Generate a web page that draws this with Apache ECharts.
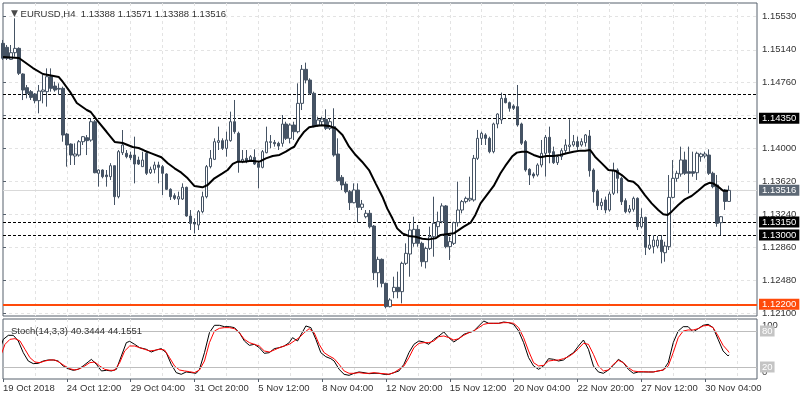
<!DOCTYPE html>
<html><head><meta charset="utf-8">
<script src="https://cdn.jsdelivr.net/npm/echarts@6/dist/echarts.min.js"></script>
<style>html,body{margin:0;padding:0;background:#fff}#c{width:800px;height:400px}</style>
</head><body><div id="c"></div>
<script>
const symbol = 'EURUSD,H4';
const tickLabels = ['19 Oct 2018','24 Oct 12:00','29 Oct 04:00','31 Oct 20:00','5 Nov 12:00','8 Nov 04:00','12 Nov 20:00','15 Nov 12:00','20 Nov 04:00','22 Nov 20:00','27 Nov 12:00','30 Nov 04:00'];
const priceTicks = [1.121, 1.1248, 1.1286, 1.1324, 1.1362, 1.14, 1.1438, 1.1476, 1.1514, 1.1553];
const priceLabelTicks = [1.121, 1.1248, 1.1286, 1.1324, 1.1362, 1.14, 1.1476, 1.1514, 1.1553];

const opens = [
1.15214,1.15168,1.15029,1.15106,1.15156,1.14860,1.14702,1.14656,1.14629,1.14552,
1.14656,1.14656,1.14829,1.14721,1.14694,1.14694,1.14167,1.14051,1.13913,1.13924,
1.14078,1.14124,1.14097,1.14309,1.13713,1.13751,1.13693,1.13674,1.13801,1.13443,
1.13951,1.13944,1.13924,1.13924,1.13866,1.13790,1.13944,1.13720,1.13759,1.13809,
1.13790,1.13705,1.13528,1.13455,1.13416,1.13416,1.13551,1.13220,1.13143,1.13116,
1.13270,1.13443,1.13790,1.13874,1.14070,1.14090,1.14001,1.14090,1.14309,1.14175,
1.13847,1.13886,1.13866,1.13897,1.13828,1.13782,1.13951,1.14070,1.14070,1.14059,
1.14059,1.14282,1.14117,1.14271,1.14194,1.14521,1.14914,1.14790,1.14637,1.14271,
1.14309,1.14336,1.14232,1.14252,1.13936,1.13666,1.13589,1.13501,1.13374,1.13520,
1.13320,1.13212,1.13251,1.13104,1.12565,1.12719,1.12442,1.12173,1.12346,1.12396,
1.12346,1.12673,1.12781,1.12904,1.13066,1.12904,1.12692,1.12846,1.12981,1.13097,
1.13155,1.13336,1.12866,1.12904,1.13143,1.13289,1.13386,1.13405,1.13405,1.13886,
1.14117,1.14156,1.14117,1.13963,1.14283,1.14330,1.14579,1.14529,1.14491,1.14483,
1.14283,1.14079,1.13759,1.13705,1.13694,1.13809,1.13944,1.14129,1.13963,1.13836,
1.13906,1.13975,1.14021,1.14040,1.14079,1.14040,1.14067,1.14144,1.13751,1.13508,
1.13339,1.13405,1.13289,1.13482,1.13751,1.13655,1.13397,1.13270,1.13297,1.13424,
1.13097,1.13204,1.12846,1.12866,1.12873,1.12942,1.12796,1.12866,1.13435,1.13655,
1.13705,1.13867,1.13732,1.13732,1.13720,1.13905,1.13913,1.13924,1.13713,1.13578,
1.13143,1.13520,1.13388];
const closes = [
1.15041,1.15041,1.15106,1.15156,1.14868,1.14675,1.14636,1.14590,1.14552,1.14663,
1.14675,1.14829,1.14694,1.14675,1.14685,1.14155,1.14040,1.13924,1.13936,1.14078,
1.14136,1.14090,1.14309,1.13720,1.13751,1.13674,1.13674,1.13801,1.13443,1.13963,
1.14040,1.13905,1.13893,1.13820,1.13820,1.13866,1.13713,1.13759,1.13809,1.13782,
1.13713,1.13528,1.13443,1.13424,1.13443,1.13551,1.13220,1.13135,1.13127,1.13270,
1.13443,1.13790,1.13886,1.14078,1.14090,1.14001,1.14098,1.14309,1.14194,1.13847,
1.13874,1.13855,1.13905,1.13820,1.13782,1.13963,1.14078,1.14078,1.14055,1.14028,
1.14282,1.14117,1.14271,1.14194,1.14521,1.14914,1.14790,1.14637,1.14252,1.14329,
1.14340,1.14232,1.14309,1.13924,1.13628,1.13578,1.13501,1.13374,1.13520,1.13320,
1.13358,1.13251,1.13096,1.12565,1.12719,1.12442,1.12173,1.12250,1.12396,1.12346,
1.12673,1.12789,1.13058,1.13066,1.12904,1.12692,1.12846,1.12981,1.13136,1.13155,
1.13336,1.12866,1.12924,1.13143,1.13289,1.13386,1.13424,1.13424,1.13886,1.14117,
1.14175,1.14117,1.13963,1.14283,1.14398,1.14579,1.14529,1.14464,1.14464,1.14271,
1.14060,1.13752,1.13694,1.13682,1.13809,1.13944,1.14129,1.13952,1.13836,1.13906,
1.13975,1.14040,1.14040,1.14079,1.14021,1.14079,1.14156,1.13743,1.13501,1.13339,
1.13378,1.13289,1.13474,1.13751,1.13655,1.13385,1.13270,1.13301,1.13424,1.13097,
1.13204,1.12858,1.12885,1.12942,1.12942,1.12808,1.12873,1.13435,1.13655,1.13713,
1.13867,1.13713,1.13713,1.13713,1.13944,1.13936,1.13936,1.13713,1.13559,1.13135,
1.13212,1.13388,1.13516];
const lows = [
1.15022,1.15022,1.15022,1.15060,1.14848,1.14559,1.14579,1.14559,1.14521,1.14406,
1.14521,1.14483,1.14656,1.14656,1.14617,1.14078,1.13790,1.13809,1.13809,1.13905,
1.14040,1.13924,1.14078,1.13713,1.13559,1.13655,1.13559,1.13636,1.13347,1.13424,
1.13924,1.13886,1.13866,1.13597,1.13809,1.13790,1.13693,1.13705,1.13713,1.13597,
1.13462,1.13520,1.13405,1.13405,1.13347,1.13405,1.13212,1.13058,1.13019,1.13058,
1.13251,1.13424,1.13770,1.13866,1.13982,1.13982,1.13905,1.14078,1.14170,1.13720,
1.13830,1.13830,1.13847,1.13809,1.13539,1.13770,1.13944,1.14001,1.14021,1.13982,
1.14021,1.14098,1.14059,1.14098,1.14175,1.14444,1.14752,1.14617,1.14244,1.14252,
1.14270,1.14213,1.14213,1.13905,1.13616,1.13520,1.13482,1.13289,1.13366,1.13146,
1.13289,1.13193,1.13077,1.12481,1.12396,1.12396,1.12153,1.12165,1.12270,1.12270,
1.12211,1.12654,1.12519,1.12865,1.12865,1.12635,1.12615,1.12827,1.12750,1.12981,
1.13136,1.12847,1.12712,1.12885,1.13097,1.13251,1.13366,1.13386,1.13386,1.13867,
1.14040,1.14040,1.13944,1.13944,1.14233,1.14283,1.14521,1.14425,1.14444,1.14252,
1.14040,1.13732,1.13578,1.13655,1.13675,1.13782,1.13675,1.13829,1.13821,1.13809,
1.13867,1.13944,1.13963,1.14021,1.13983,1.14021,1.14021,1.13674,1.13374,1.13289,
1.13289,1.13251,1.13270,1.13462,1.13482,1.13347,1.13251,1.13251,1.13270,1.13058,
1.13077,1.12769,1.12827,1.12788,1.12847,1.12673,1.12692,1.12827,1.13424,1.13616,
1.13674,1.13694,1.13482,1.13674,1.13636,1.13847,1.13886,1.13694,1.13540,1.13096,
1.13000,1.13290,1.13388];
const highs = [
1.15253,1.15195,1.15195,1.15503,1.15168,1.14868,1.14733,1.14675,1.14640,1.14733,
1.14848,1.14925,1.14925,1.14771,1.14752,1.14714,1.14180,1.14059,1.14059,1.14097,
1.14144,1.14155,1.14348,1.14329,1.13760,1.13759,1.13751,1.13830,1.13801,1.13982,
1.14213,1.13982,1.13963,1.14136,1.13905,1.13963,1.13963,1.13790,1.13847,1.13847,
1.13809,1.13713,1.13540,1.13482,1.13501,1.13597,1.13559,1.13289,1.13193,1.13289,
1.13501,1.13809,1.13982,1.14117,1.14252,1.14117,1.14194,1.14425,1.14560,1.14194,
1.13982,1.13982,1.13924,1.13990,1.13847,1.13982,1.14252,1.14155,1.14098,1.14078,
1.14386,1.14309,1.14290,1.14309,1.14752,1.14964,1.14991,1.14810,1.14656,1.14367,
1.14367,1.14452,1.14348,1.14464,1.14117,1.13693,1.13616,1.13520,1.13597,1.13597,
1.13405,1.13289,1.13289,1.13116,1.12750,1.12730,1.12450,1.12270,1.12519,1.12577,
1.12692,1.12904,1.13135,1.13212,1.13116,1.12923,1.12865,1.13096,1.13443,1.13270,
1.13367,1.13347,1.12981,1.13155,1.13617,1.13405,1.13444,1.13674,1.13925,1.14214,
1.14194,1.14175,1.14136,1.14298,1.14406,1.14645,1.14618,1.14541,1.14510,1.14733,
1.14298,1.14098,1.13771,1.13724,1.13829,1.14098,1.14156,1.14252,1.14021,1.13913,
1.14002,1.14106,1.14337,1.14156,1.14137,1.14117,1.14167,1.14213,1.13770,1.13528,
1.13424,1.13444,1.13501,1.13836,1.13770,1.13674,1.13424,1.13347,1.13444,1.13435,
1.13309,1.13212,1.12989,1.13000,1.12989,1.13000,1.12923,1.13693,1.13866,1.13743,
1.14021,1.13963,1.14021,1.13963,1.13963,1.13951,1.13963,1.13990,1.13732,1.13694,
1.13220,1.13530,1.13571];

// moving average line [bar position, price]
const maLine = [[0,1.15056],[4,1.15045],[7.5,1.14929],[10,1.14860],[14,1.14825],[15,1.14768],[17,1.14641],[18.5,1.14525],[21,1.14444],[22,1.14421],[23.5,1.14329],[26,1.14190],[28,1.14075],[30,1.14063],[32.5,1.14017],[34,1.14005],[35.5,1.13974],[37.2,1.13944],[39.7,1.13898],[41.3,1.13829],[43,1.13771],[44.7,1.13720],[46.3,1.13655],[48,1.13566],[50,1.13551],[51.3,1.13578],[53,1.13655],[55,1.13713],[56.3,1.13751],[57.6,1.13821],[58.8,1.13847],[60.5,1.13847],[62.2,1.13859],[64.3,1.13847],[65.9,1.13886],[67.6,1.13913],[69.3,1.13925],[70.9,1.13963],[72.2,1.14002],[73,1.14020],[74.25,1.14117],[75.5,1.14194],[76.75,1.14244],[78.4,1.14259],[80,1.14267],[81.75,1.14259],[83.4,1.14232],[85.1,1.14155],[86.75,1.14020],[88.4,1.13924],[90,1.13847],[91.75,1.13751],[93.4,1.13597],[95.1,1.13443],[96.3,1.13308],[97.6,1.13193],[98.8,1.13077],[100.1,1.13020],[101.75,1.12989],[103.4,1.12981],[105.1,1.12958],[106.75,1.12950],[108.4,1.12962],[109.7,1.13001],[113,1.13020],[115.5,1.13097],[117.2,1.13143],[118.4,1.13232],[119.7,1.13366],[121.3,1.13463],[123,1.13567],[124.7,1.13713],[125.9,1.13798],[127.6,1.13906],[128.8,1.13952],[130.1,1.13963],[131.3,1.13963],[133,1.13925],[134.7,1.13898],[136.3,1.13913],[138,1.13913],[139.7,1.13925],[141.3,1.13944],[143,1.13963],[144.7,1.13975],[145.9,1.13974],[147.2,1.13982],[148.4,1.13905],[150.1,1.13828],[151.75,1.13751],[153.4,1.13743],[155.1,1.13693],[156.75,1.13628],[158,1.13616],[159.25,1.13566],[160.9,1.13462],[162.6,1.13366],[164.25,1.13289],[165.5,1.13239],[166.6,1.13231],[167.6,1.13270],[169.25,1.13347],[170.9,1.13412],[172.6,1.13451],[174.25,1.13512],[175.9,1.13578],[177.2,1.13605],[178,1.13597],[179.25,1.13559],[180.5,1.13512],[181.75,1.13512]];

// Stochastic %K (black) and %D (red) [bar position, value]
const stochK = [[-0.75,49.5],[0.08,66.1],[1.33,72.8],[2.58,72.8],[3.83,63.4],[5.08,43.9],[6.33,30.0],[7.58,25.6],[8.83,26.1],[10.08,30.0],[11.33,31.7],[12.58,31.7],[13.83,30.0],[15.08,21.7],[16.33,17.2],[17.58,14.5],[18.83,16.1],[20.08,21.7],[21.33,28.3],[22.17,32.8],[23.42,24.5],[24.67,13.4],[25.92,14.5],[27.17,13.4],[28.42,16.1],[29.67,38.4],[30.92,60.6],[31.75,62.8],[33,57.8],[34.25,52.2],[35.92,49.5],[37.17,45.0],[38.42,48.4],[39.67,50.6],[40.92,43.9],[42.17,24.5],[43.42,10.6],[44.67,7.8],[45.92,11.7],[47.17,10.6],[48.42,9.5],[49.25,16.1],[50.5,43.9],[51.75,77.2],[53,89.5],[54.25,89.5],[55.5,87.2],[56.75,87.2],[58,85.6],[59.25,77.2],[60.5,63.4],[61.75,56.1],[63,57.8],[64.25,52.2],[65.5,42.8],[66.75,43.9],[68,50.6],[69.25,52.2],[70.5,55.0],[71.75,60.6],[72.58,68.9],[73.83,63.4],[75.08,78.4],[75.92,88.4],[77.17,85.6],[78.42,66.1],[79.67,43.9],[80.92,37.2],[82.17,33.9],[83,30.0],[84.25,16.1],[85.5,7.8],[86.75,6.1],[88,9.5],[89.25,11.7],[90.5,10.6],[91.75,8.9],[93,9.5],[94.25,9.5],[95.5,7.8],[96.75,7.8],[98,10.6],[99.25,13.4],[100.5,24.5],[101.75,43.9],[103,57.8],[104.25,63.4],[105.5,61.7],[106.75,57.8],[108,66.1],[109.25,71.7],[110.5,78.4],[111.75,68.9],[113,61.7],[114.25,67.2],[115.5,74.5],[116.75,77.2],[118,80.0],[119.25,88.4],[120.5,96.7],[121.75,92.8],[123,92.8],[124.25,92.8],[125.5,95.0],[126.75,93.9],[128,91.1],[129.25,80.0],[130.5,60.6],[131.75,35.6],[133,21.7],[134.25,16.1],[135.5,21.7],[136.75,33.9],[138,32.8],[139.25,30.0],[140.5,31.7],[141.75,38.4],[143,43.9],[144.25,55.0],[145.5,65.0],[146.75,49.5],[148,21.7],[149.25,11.7],[150.5,9.5],[151.75,15.0],[153,22.8],[154.25,32.8],[155.5,27.2],[156.75,16.1],[158,9.5],[159.25,11.7],[160.5,11.7],[161.75,11.7],[163,11.7],[164.25,13.4],[165.5,15.0],[166.75,27.2],[168,60.6],[169.25,80.0],[170.5,87.2],[171.75,87.2],[173,78.4],[174.25,83.9],[175.5,89.5],[176.75,91.1],[178,85.6],[179.25,66.1],[180.5,46.7],[181.75,38.4],[182,40.3444]];
const stochD = [[-0.75,35.6],[0.5,57.8],[1.75,66.1],[3,67.2],[4.25,63.4],[5.5,49.5],[6.75,35.6],[8,28.3],[9.25,27.2],[10.5,30.0],[11.75,31.7],[13,31.7],[14.25,27.2],[15.5,21.7],[16.75,17.2],[18,15.0],[19.25,17.2],[20.5,21.7],[21.75,27.2],[23,28.3],[24.25,21.7],[25.5,16.1],[26.75,14.5],[28,14.5],[29.25,27.2],[30.5,46.7],[31.75,55.0],[33,55.0],[34.25,52.2],[35.5,49.5],[36.75,46.7],[38,47.8],[39.25,49.5],[40.5,48.4],[41.75,35.6],[43,21.7],[44.25,15.0],[45.5,13.4],[46.75,12.2],[48,10.6],[49.25,15.0],[50.5,30.0],[51.75,60.6],[53,80.0],[54.25,84.5],[55.5,85.6],[56.75,85.6],[58,83.9],[59.25,77.2],[60.5,66.1],[61.75,60.6],[63,57.8],[64.25,55.0],[65.5,46.7],[66.75,45.0],[68,48.4],[69.25,52.2],[70.5,55.0],[71.75,57.8],[73,63.4],[74.25,68.9],[75.5,77.2],[76.75,83.9],[78,77.2],[79.25,57.8],[80.5,43.9],[81.75,38.4],[83,33.9],[84.25,24.5],[85.5,13.4],[86.75,9.5],[88,9.5],[89.25,10.6],[90.5,9.5],[91.75,9.5],[93,10.6],[94.25,9.5],[95.5,8.9],[96.75,7.8],[98,10.6],[99.25,16.1],[100.5,21.7],[101.75,35.6],[103,52.2],[104.25,59.5],[105.5,60.6],[106.75,60.6],[108,63.4],[109.25,70.6],[110.5,71.7],[111.75,68.9],[113,65.0],[114.25,67.2],[115.5,72.8],[116.75,77.2],[118,80.0],[119.25,85.6],[120.5,91.1],[121.75,92.8],[123,92.8],[124.25,92.8],[125.5,93.9],[126.75,93.9],[128,92.8],[129.25,85.6],[130.5,68.9],[131.75,46.7],[133,27.2],[134.25,21.7],[135.5,22.8],[136.75,30.0],[138,31.1],[139.25,31.7],[140.5,33.9],[141.75,37.2],[143,42.8],[144.25,50.6],[145.5,59.5],[146.75,57.8],[148,41.1],[149.25,21.7],[150.5,13.4],[151.75,15.0],[153,24.5],[154.25,31.1],[155.5,27.2],[156.75,18.9],[158,13.4],[159.25,12.2],[160.5,12.2],[161.75,11.7],[163,11.7],[164.25,13.4],[165.5,15.0],[166.75,21.7],[168,43.9],[169.25,68.9],[170.5,80.0],[171.75,81.7],[173,81.7],[174.25,83.9],[175.5,88.4],[176.75,89.5],[178,85.6],[179.25,71.7],[180.5,56.1],[181.75,46.7],[182,44.1551]];

const unlabeledLevels = [1.1463];
const labeledLevels = [1.1435, 1.1315, 1.13];
const supportLevel = 1.122;
const stochLevels = [80, 20];
const slotCount = 190;

const FONT = "'Liberation Sans', Arial, sans-serif";
const CANDLE = '#455364';
const GRID_LINE = '#e3e3e3';
const last = closes.length - 1;

const categories = Array.from({length: slotCount}, (_, i) => i);
const candles = opens.map((o, i) => [o, closes[i], lows[i], highs[i]]);
const lastClose = closes[last];

const boxLabel = (bg, text) => ({
  show: true, position: 'end', distance: 2, formatter: text,
  backgroundColor: bg, color: '#fff', fontSize: 9.5, fontFamily: FONT,
  padding: [1, 3, 0, 3], lineHeight: 10
});

const markData = [];
markData.push({yAxis: lastClose, lineStyle: {color: '#d9d9d9', type: 'solid', width: 1}, label: boxLabel('#5d6875', lastClose.toFixed(5))});
unlabeledLevels.forEach(v => markData.push({yAxis: v, lineStyle: {color: '#000', type: [3, 2], width: 1}, label: {show: false}}));
labeledLevels.forEach(v => markData.push({yAxis: v, lineStyle: {color: '#000', type: [3, 2], width: 1}, label: boxLabel('#000', v.toFixed(5))}));
markData.push({yAxis: supportLevel, lineStyle: {color: '#ff4a0a', type: 'solid', width: 2}, label: boxLabel('#ff4a0a', supportLevel.toFixed(5))});

const splitEvery8 = {show: true, interval: (i) => i > 0 && i % 8 === 0, lineStyle: {type: [3, 3], color: GRID_LINE}};

const chart = echarts.init(document.getElementById('c'), null, {renderer: 'canvas'});
chart.setOption({
  animation: false,
  backgroundColor: '#fff',
  title: [
    {text: '{t|▼} ' + symbol + '  ' + [opens[last], highs[last], lows[last], closes[last]].map(v => v.toFixed(5)).join(' '),
     left: 6, top: 4,
     textStyle: {fontSize: 9.5, fontWeight: 'normal', color: '#333', fontFamily: FONT,
       rich: {t: {fontSize: 9, color: '#4a4a4a', fontFamily: "'DejaVu Sans', sans-serif"}}}},
    {text: 'Stoch(14,3,3) ' + stochK[stochK.length - 1][1].toFixed(4) + ' ' + stochD[stochD.length - 1][1].toFixed(4),
     left: 6, top: 321,
     textStyle: {fontSize: 9.5, fontWeight: 'normal', color: '#333', fontFamily: FONT}}
  ],
  grid: [
    {left: 3, right: 43, top: 3, height: 313, show: true, borderColor: '#56606c', borderWidth: 1},
    {left: 3, right: 43, top: 319, height: 60, show: true, borderColor: '#56606c', borderWidth: 1}
  ],
  xAxis: [
    {type: 'category', gridIndex: 0, data: categories, boundaryGap: false,
     axisLine: {show: false}, axisTick: {show: false}, axisLabel: {show: false}, splitLine: splitEvery8},
    {type: 'category', gridIndex: 1, data: categories, boundaryGap: false,
     axisLine: {show: false},
     axisTick: {show: true, interval: (i) => i % 16 === 0, length: 3, lineStyle: {color: '#56606c'}},
     axisLabel: {show: true, interval: (i) => i % 16 === 0, formatter: (v, i) => tickLabels[i / 16] || '',
       align: 'left', margin: 4, fontSize: 9.5, color: '#333', fontFamily: FONT},
     splitLine: splitEvery8},
    {type: 'value', gridIndex: 0, min: 0, max: slotCount - 1, show: false},
    {type: 'value', gridIndex: 1, min: 0, max: slotCount - 1, show: false}
  ],
  yAxis: [
    {type: 'value', gridIndex: 0, position: 'right', min: 1.12065, max: 1.1568,
     axisLine: {show: false},
     axisTick: {show: true, customValues: priceTicks, length: 3, lineStyle: {color: '#56606c'}},
     axisLabel: {customValues: priceLabelTicks, formatter: v => v.toFixed(5), fontSize: 9.5, color: '#333', fontFamily: FONT, margin: 5},
     splitLine: {show: true, lineStyle: {type: [3, 3], color: GRID_LINE}}},
    {type: 'value', gridIndex: 1, position: 'right', min: 0, max: 100,
     axisLine: {show: false}, axisTick: {show: false}, splitLine: {show: false},
     axisLabel: {customValues: [0, 100], margin: 5, fontSize: 9.5, color: '#333', fontFamily: FONT,
       formatter: v => v === 100 ? '{a|100}' : '{b|0}',
       rich: {a: {padding: [12, 0, 0, 0], fontSize: 9.5, fontFamily: FONT, color: '#333'},
              b: {padding: [0, 0, 14, 0], fontSize: 9.5, fontFamily: FONT, color: '#333'}}}}
  ],
  series: [
    {type: 'line', xAxisIndex: 2, yAxisIndex: 0, data: maLine, showSymbol: false, silent: true,
     lineStyle: {color: '#000', width: 2}, z: 3,
     markLine: {silent: true, symbol: ['none', 'none'], precision: 5, animation: false, z: 2, data: markData}},
    {type: 'candlestick', xAxisIndex: 0, yAxisIndex: 0, data: candles, barWidth: 3, z: 2,
     itemStyle: {color: '#ffffff', color0: CANDLE, borderColor: CANDLE, borderColor0: CANDLE, borderWidth: 1}},
    {type: 'line', xAxisIndex: 3, yAxisIndex: 1, data: stochK, showSymbol: false, silent: true,
     lineStyle: {color: '#000', width: 1}},
    {type: 'line', xAxisIndex: 3, yAxisIndex: 1, data: stochD, showSymbol: false, silent: true,
     lineStyle: {color: '#ff0000', width: 1},
     markLine: {silent: true, symbol: ['none', 'none'], precision: 2, animation: false,
       data: stochLevels.map(v => ({yAxis: v, lineStyle: {color: '#bdbdbd', type: 'solid', width: 1},
         label: {show: true, position: 'end', distance: 3, formatter: String(v), backgroundColor: '#c4c4c4',
           color: '#fff', fontSize: 9.5, fontFamily: FONT, padding: [1, 2, 0, 2], lineHeight: 10}}))}}
  ]
});
</script></body></html>
